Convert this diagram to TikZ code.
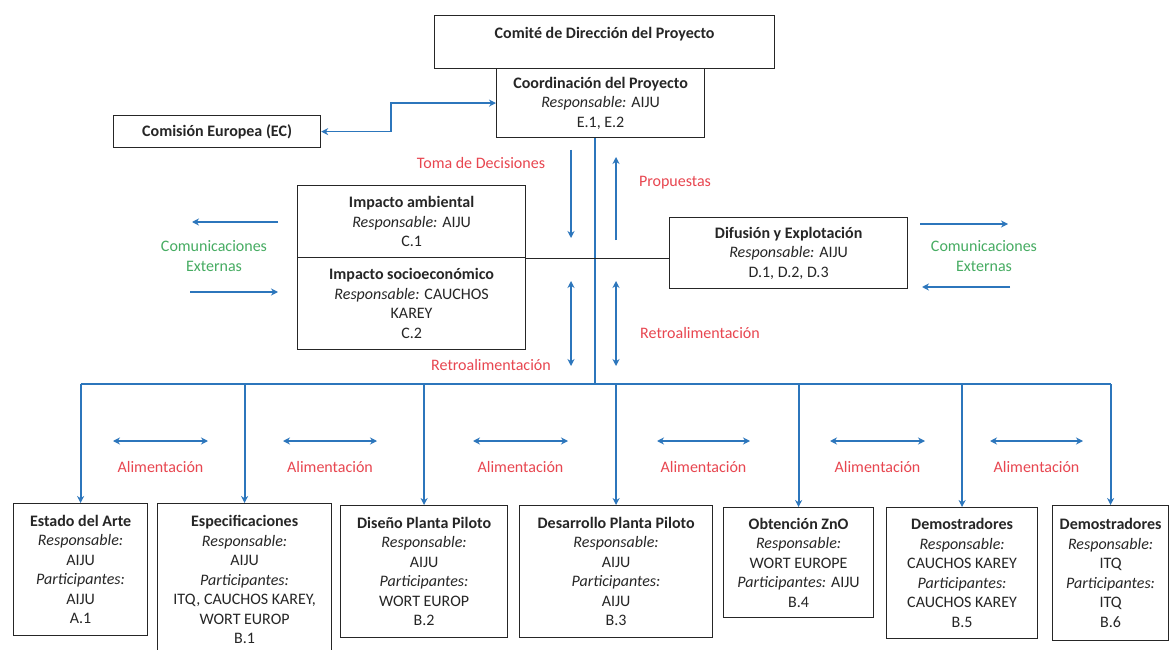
\documentclass[tikz,border=0pt]{standalone}
\usepackage{fontspec}
\setmainfont{Carlito}
\usetikzlibrary{arrows.meta,calc}
\definecolor{lblue}{RGB}{44,118,188}
\definecolor{lred}{RGB}{232,70,80}
\definecolor{lgreen}{RGB}{70,172,98}
\begin{document}
\begin{tikzpicture}[x=1pt,y=-1pt,
  font=\fontsize{16}{19.5}\selectfont,
  box/.style={draw=black!85, line width=1.2pt, inner xsep=0pt, inner ysep=0pt,
    align=center, anchor=north west, text=black!85},
  bline/.style={draw=lblue, line width=1.8pt},
  bar/.style={bline, -{Stealth[length=7pt,width=7pt]}},
  dbar/.style={bline, {Stealth[length=7pt,width=7pt]}-{Stealth[length=7pt,width=7pt]}},
  redlbl/.style={text=lred},
  greenlbl/.style={text=lgreen, align=center}]
\clip (0,0) rectangle (1171,650);
\fill[white] (0,0) rectangle (1171,650);

% top boxes
\node[box, minimum width=340pt, minimum height=53pt, text height=11pt, text depth=19pt] (comite) at (434,15)
  {\textbf{Comité de Dirección del Proyecto}};
\node[box, minimum width=208pt, minimum height=69pt] (coord) at (496,68)
  {\textbf{Coordinación del Proyecto}\\ \textit{Responsable:} AIJU\\ E.1, E.2};
\node[box, minimum width=207pt, minimum height=32pt] (ec) at (113,115)
  {\textbf{Comisión Europea (EC)}};

% middle boxes
\node[box, minimum width=228pt, minimum height=72pt] (amb) at (297,185)
  {\textbf{Impacto ambiental}\\ \textit{Responsable:} AIJU\\ C.1};
\node[box, minimum width=228pt, minimum height=92pt] (socio) at (297,257)
  {\textbf{Impacto socioeconómico}\\ \textit{Responsable:} CAUCHOS\\ KAREY\\ C.2};
\node[box, minimum width=238pt, minimum height=71pt] (difu) at (669,217)
  {\textbf{Difusión y Explotación}\\ \textit{Responsable:} AIJU\\ D.1, D.2, D.3};

% bottom boxes
\node[box, minimum width=134pt, minimum height=132pt] (estado) at (13,503)
  {\textbf{Estado del Arte}\\ \textit{Responsable:}\\ AIJU\\ \textit{Participantes:}\\ AIJU\\ A.1};
\node[box, minimum width=174pt, minimum height=152pt] (espec) at (157,503)
  {\textbf{Especificaciones}\\ \textit{Responsable:}\\ AIJU\\ \textit{Participantes:}\\ ITQ, CAUCHOS KAREY,\\ WORT EUROP\\ B.1};
\node[box, minimum width=167pt, minimum height=132pt] (diseno) at (340,505)
  {\textbf{Diseño Planta Piloto}\\ \textit{Responsable:}\\ AIJU\\ \textit{Participantes:}\\ WORT EUROP\\ B.2};
\node[box, minimum width=193pt, minimum height=132pt] (desa) at (519,505)
  {\textbf{Desarrollo Planta Piloto}\\ \textit{Responsable:}\\ AIJU\\ \textit{Participantes:}\\ AIJU\\ B.3};
\node[box, minimum width=150pt, minimum height=110pt] (obten) at (723,507)
  {\textbf{Obtención ZnO}\\ \textit{Responsable:}\\ WORT EUROPE\\ \textit{Participantes:} AIJU\\ B.4};
\node[box, minimum width=151pt, minimum height=131pt] (demoa) at (886,507)
  {\textbf{Demostradores}\\ \textit{Responsable:}\\ CAUCHOS KAREY\\ \textit{Participantes:}\\ CAUCHOS KAREY\\ B.5};
\node[box, minimum width=116pt, minimum height=135pt] (demob) at (1052,505)
  {\textbf{Demostradores}\\ \textit{Responsable:}\\ ITQ\\ \textit{Participantes:}\\ ITQ\\ B.6};

% EC <-> coordination
\draw[dbar] (ec.east) -- ++(70,0) |- (coord.west);

% main vertical and bus
\coordinate (hub) at (595,384);
\draw[bline] (hub |- coord.south) -- (hub);
\draw[bline] (estado.north |- hub) -- (demob.north |- hub);
\foreach \b in {estado,espec,diseno,desa,obten,demoa,demob}
  \draw[bar] (\b.north |- hub) -- (\b.north);

% black link
\draw[black!85, line width=1.2pt] (amb.south east) -- (amb.south east -| difu.west);

% vertical arrows near the main line
\draw[bar] (571,150) -- (571,238);
\draw[bar] (616,240) -- (616,157);
\draw[dbar] (571,281) -- (571,366);
\draw[dbar] (616,281) -- (616,366);
\node[redlbl] (tdd) at (481,163) {Toma de Decisiones};
\node[redlbl] (prop) at (675,183) {Propuestas};
\node[redlbl] (retl) at (491,365) {Retroalimentación};
\node[redlbl] (retr) at (700,333) {Retroalimentación};

% external communications
\draw[bar] (278,222) -- (192,222);
\draw[bar] (190,292) -- (278,292);
\node[greenlbl] (cel) at (214,256) {Comunicaciones\\ Externas};
\draw[bar] (920,224) -- (1008,224);
\draw[bar] (1010,287) -- (922,287);
\node[greenlbl] (cer) at (984,256) {Comunicaciones\\ Externas};

% alimentacion
\foreach \a/\b/\n in {113/208/a1, 283/377/a2, 473/568/a3, 657/750/a4, 830/925/a5, 990/1083/a6}{
  \draw[dbar] (\a,441) -- (\b,441);
  \node[redlbl] (\n) at ({(\a+\b)/2},467) {Alimentación};
}
\end{tikzpicture}
\end{document}
